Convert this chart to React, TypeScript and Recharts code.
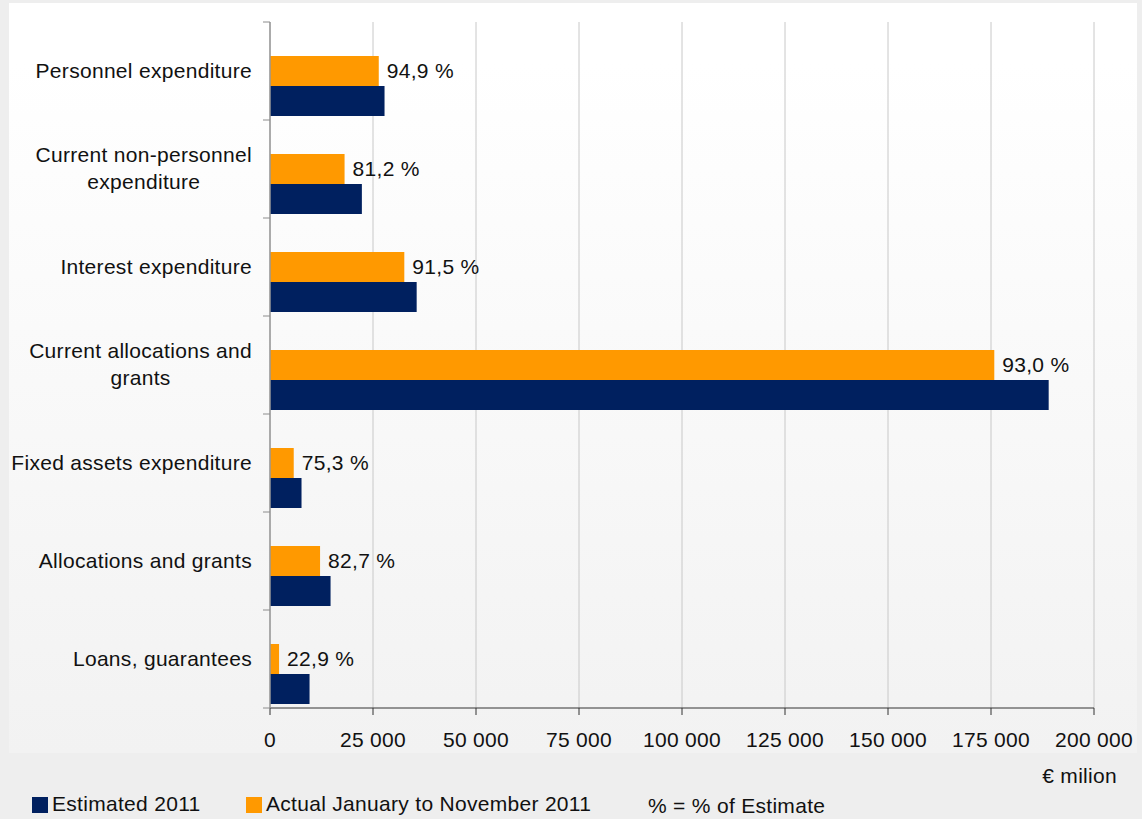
import { BarChart, Bar, XAxis, YAxis, CartesianGrid, LabelList } from "recharts";

// Budget execution by expenditure type, € million
const CATEGORIES = [
  "Personnel expenditure",
  "Current non-personnel\nexpenditure",
  "Interest expenditure",
  "Current allocations and\ngrants",
  "Fixed assets expenditure",
  "Allocations and grants",
  "Loans, guarantees",
];
const ESTIMATED = [27800, 22300, 35600, 189000, 7650, 14700, 9600];
const ACTUAL = [26400, 18100, 32600, 175800, 5760, 12150, 2200];
const PCT_OF_ESTIMATE = [94.9, 81.2, 91.5, 93.0, 75.3, 82.7, 22.9];
const X_TICKS = [0, 25000, 50000, 75000, 100000, 125000, 150000, 175000, 200000];

const NAVY = "#00205f";
const ORANGE = "#ff9900";
const FONT = "'Liberation Sans', Arial, sans-serif";
const SPACING = "0.3px";

const W = 1142;
const H = 819;
const PLOT = { left: 270, right: 1094, top: 22, bottom: 708 };
const BAND = (PLOT.bottom - PLOT.top) / CATEGORIES.length;

const data = CATEGORIES.map((name, i) => ({
  name,
  estimated: ESTIMATED[i],
  actual: ACTUAL[i],
  pct: PCT_OF_ESTIMATE[i],
}));

const thousands = (v: number) => String(v).replace(/\B(?=(\d{3})+(?!\d))/g, " ");
const pctText = (v: number) => v.toFixed(1).replace(".", ",") + " %";

function CategoryTick(props: any) {
  const { y, payload, index } = props;
  const half = BAND / 2;
  return (
    <g>
      <line x1={PLOT.left - 7} x2={PLOT.left} y1={y - half} y2={y - half} stroke="#8c8c8c" />
      {index === CATEGORIES.length - 1 && (
        <line x1={PLOT.left - 7} x2={PLOT.left} y1={y + half} y2={y + half} stroke="#8c8c8c" />
      )}
      <foreignObject x={0} y={y - half - 1} width={PLOT.left - 18} height={BAND}>
        <div
          style={{
            height: "100%",
            display: "flex",
            alignItems: "center",
            justifyContent: "flex-end",
          }}
        >
          <div
            style={{
              textAlign: "center",
              whiteSpace: "pre-line",
              fontFamily: FONT,
              fontSize: 21,
              letterSpacing: SPACING,
              lineHeight: "27px",
              color: "#111",
            }}
          >
            {payload.value}
          </div>
        </div>
      </foreignObject>
    </g>
  );
}

export default function App() {
  return (
    <div
      style={{
        position: "absolute",
        left: 0,
        top: 0,
        width: W,
        height: H,
        background: "#eeeeee",
        overflow: "hidden",
        fontFamily: FONT,
      }}
    >
      <div
        style={{
          position: "absolute",
          left: 9,
          top: 3,
          width: 1128,
          height: 750,
          background: "linear-gradient(to bottom, #ffffff 0%, #ffffff 8%, #f2f2f2 100%)",
        }}
      />
      <div style={{ position: "absolute", left: 0, top: 0 }}>
        <BarChart
          width={W}
          height={H}
          data={data}
          layout="vertical"
          margin={{ top: PLOT.top, right: W - PLOT.right, bottom: 61, left: 0 }}
          barSize={30}
          barGap={0}
        >
          <CartesianGrid horizontal={false} stroke="#c8c8c8" />
          <XAxis
            type="number"
            domain={[0, 200000]}
            ticks={X_TICKS}
            tickFormatter={thousands}
            height={50}
            tickSize={7}
            tickMargin={17}
            axisLine={{ stroke: "#333" }}
            tickLine={{ stroke: "#333" }}
            tick={{ fill: "#111", fontSize: 21, fontFamily: FONT, letterSpacing: SPACING }}
          />
          <YAxis
            type="category"
            dataKey="name"
            width={PLOT.left}
            interval={0}
            tickLine={false}
            axisLine={{ stroke: "#999", strokeWidth: 1.5 }}
            tick={<CategoryTick />}
          />
          {/* empty slot above the pair of bars in each band */}
          <Bar dataKey="spacer" fill="none" legendType="none" isAnimationActive={false} />
          <Bar dataKey="actual" fill={ORANGE} isAnimationActive={false}>
            <LabelList
              dataKey="pct"
              position="right"
              offset={8}
              formatter={(v: any) => pctText(Number(v))}
              style={{ fill: "#111", fontSize: 21, fontFamily: FONT, letterSpacing: SPACING }}
            />
          </Bar>
          <Bar dataKey="estimated" fill={NAVY} isAnimationActive={false} />
        </BarChart>
      </div>
      <svg
        width={W}
        height={H}
        style={{ position: "absolute", left: 0, top: 0, pointerEvents: "none", letterSpacing: SPACING }}
        fontFamily={FONT}
        fontSize={21}
        fill="#111"
      >
        <text x={1117} y={783} textAnchor="end">€ milion</text>
        <rect x={32} y={797} width={16} height={16} fill={NAVY} />
        <text x={52} y={811}>Estimated 2011</text>
        <rect x={246} y={797} width={16} height={16} fill={ORANGE} />
        <text x={266} y={811}>Actual January to November 2011</text>
        <text x={648} y={813}>% = % of Estimate</text>
      </svg>
    </div>
  );
}
